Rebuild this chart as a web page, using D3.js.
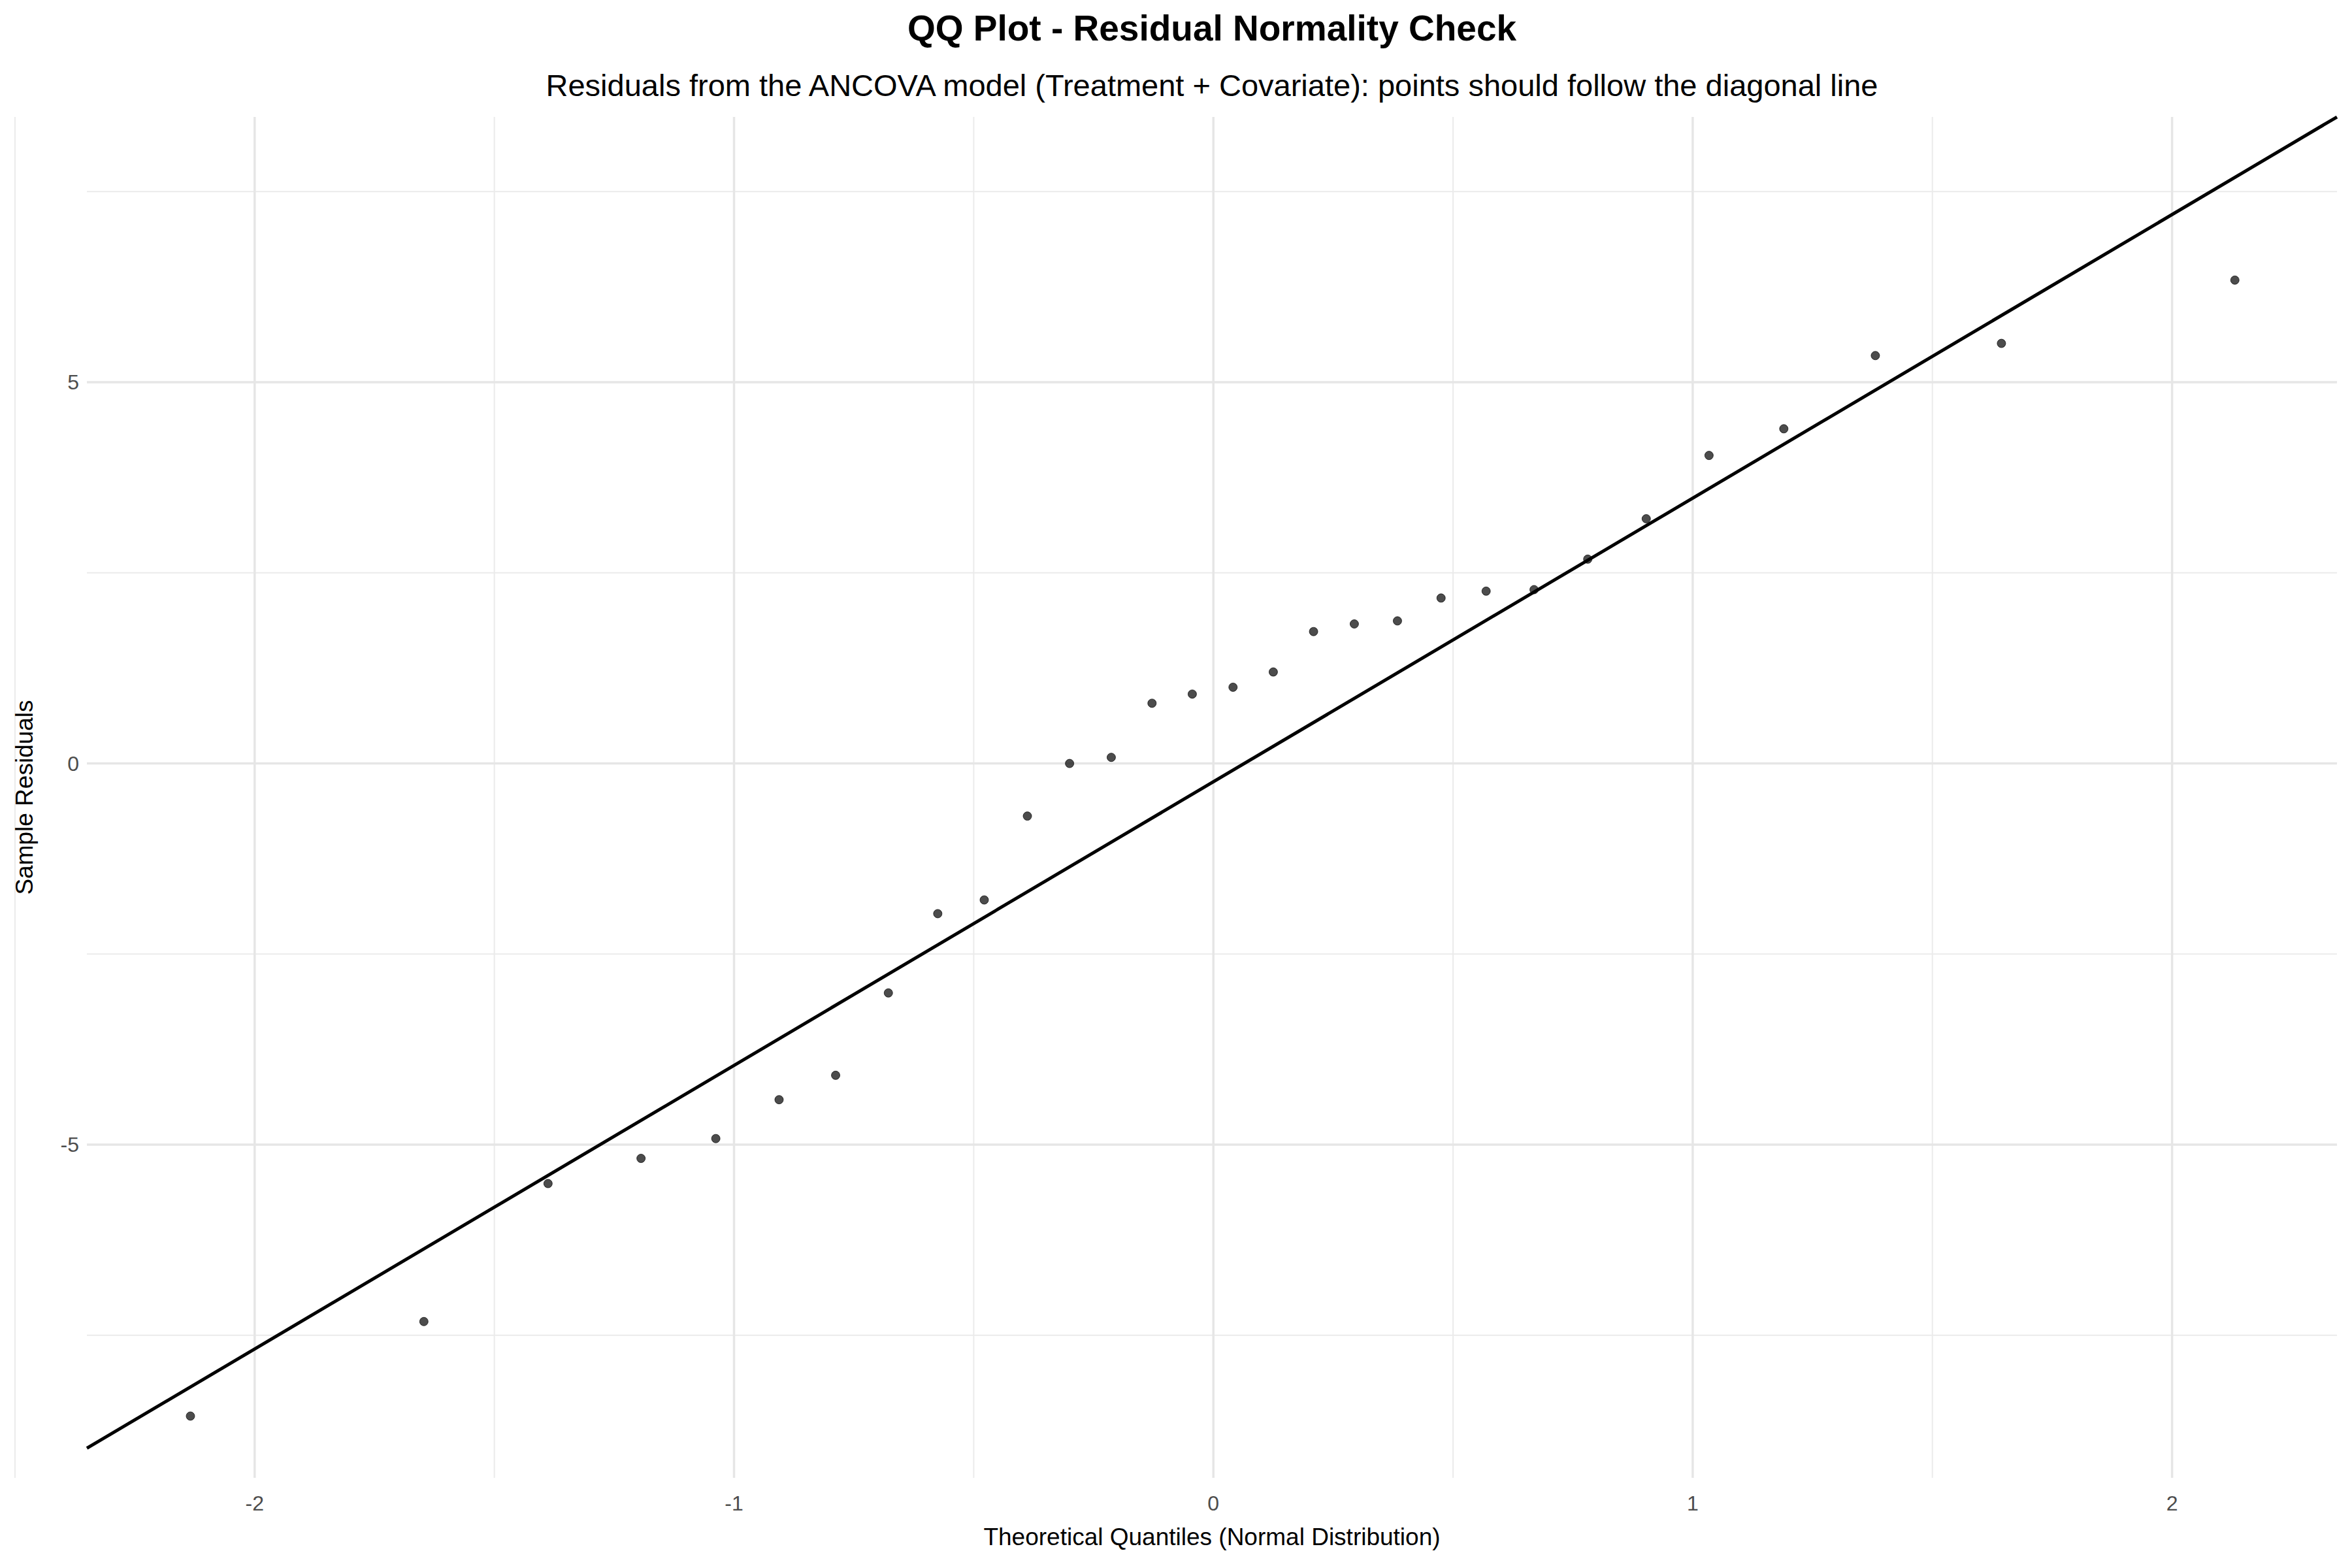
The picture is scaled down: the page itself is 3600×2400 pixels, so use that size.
<!DOCTYPE html>
<html><head><meta charset="utf-8">
<script src="https://cdn.jsdelivr.net/npm/d3@7"></script>
<style>body{margin:0;background:#fff}text{font-family:"Liberation Sans",Arial,sans-serif}</style>
</head><body><svg id="chart" width="3600" height="2400"></svg>
<script>
// theoretical quantiles and sample residuals
var theoretical = [-2.134,-1.647,-1.388,-1.194,-1.038,-0.906,-0.788,-0.678,-0.575,-0.478,-0.388,-0.300,-0.213,-0.128,-0.044,0.041,0.125,0.209,0.294,0.384,0.475,0.569,0.669,0.781,0.903,1.034,1.190,1.381,1.644,2.131];
var residuals = [-8.56,-7.32,-5.51,-5.18,-4.92,-4.41,-4.09,-3.01,-1.97,-1.79,-0.69,0.00,0.08,0.79,0.91,1.00,1.20,1.73,1.83,1.87,2.17,2.26,2.28,2.68,3.21,4.04,4.39,5.35,5.51,6.34];
var lineSlope = 3.72, lineIntercept = -0.24;
var xTicks = [-2,-1,0,1,2], yTicks = [-5,0,5];

var svg = d3.select('#chart');
var m = {l:133, r:3577, t:179, b:2262};
var x = d3.scaleLinear().domain([-2.35,2.344]).range([m.l,m.r]);
var y = d3.scaleLinear().domain([-9.37,8.48]).range([m.b,m.t]);

var g = svg.append('g');
d3.range(-2.5,2.6,1).forEach(function(v){
  g.append('line').attr('x1',x(v)).attr('x2',x(v)).attr('y1',m.t).attr('y2',m.b).attr('stroke','#ebebeb').attr('stroke-width',2);
});
d3.range(-7.5,8,5).forEach(function(v){
  g.append('line').attr('x1',m.l).attr('x2',m.r).attr('y1',y(v)).attr('y2',y(v)).attr('stroke','#ebebeb').attr('stroke-width',2);
});
xTicks.forEach(function(v){
  g.append('line').attr('x1',x(v)).attr('x2',x(v)).attr('y1',m.t).attr('y2',m.b).attr('stroke','#e6e6e6').attr('stroke-width',3.5);
  svg.append('text').attr('x',x(v)).attr('y',m.b+50).attr('text-anchor','middle').attr('font-size',32).attr('fill','#4d4d4d').text(v);
});
yTicks.forEach(function(v){
  g.append('line').attr('x1',m.l).attr('x2',m.r).attr('y1',y(v)).attr('y2',y(v)).attr('stroke','#e6e6e6').attr('stroke-width',3.5);
  svg.append('text').attr('x',m.l-12).attr('y',y(v)+11).attr('text-anchor','end').attr('font-size',32).attr('fill','#4d4d4d').text(v);
});

svg.append('line')
  .attr('x1',x(-2.35)).attr('y1',y(lineIntercept+lineSlope*-2.35))
  .attr('x2',x(2.344)).attr('y2',y(lineIntercept+lineSlope*2.344))
  .attr('stroke','#000').attr('stroke-width',5);

svg.selectAll('circle').data(theoretical).enter().append('circle')
  .attr('cx',function(d){return x(d);})
  .attr('cy',function(d,i){return y(residuals[i]);})
  .attr('r',6.5).attr('fill','#000').attr('fill-opacity',0.7).attr('stroke','#000').attr('stroke-opacity',0.7);

svg.append('text').attr('x',1855).attr('y',62).attr('text-anchor','middle').attr('font-size',55).attr('font-weight','bold').text('QQ Plot - Residual Normality Check');
svg.append('text').attr('x',1855).attr('y',147).attr('text-anchor','middle').attr('font-size',47).text('Residuals from the ANCOVA model (Treatment + Covariate): points should follow the diagonal line');
svg.append('text').attr('x',1855).attr('y',2365).attr('text-anchor','middle').attr('font-size',37).text('Theoretical Quantiles (Normal Distribution)');
svg.append('text').attr('transform','translate(50,'+((m.t+m.b)/2)+') rotate(-90)').attr('text-anchor','middle').attr('font-size',37).text('Sample Residuals');
</script></body></html>
